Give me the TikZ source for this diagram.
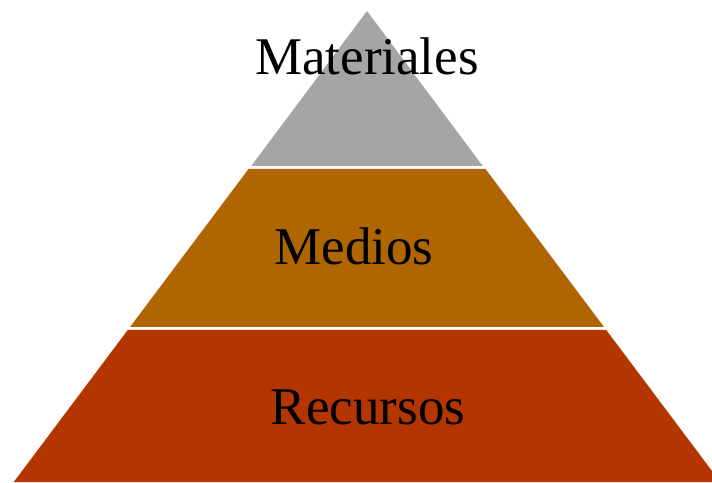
\documentclass[tikz,border=0pt]{standalone}
\usepackage{fontspec}
\setmainfont{Liberation Serif}
\usepackage{tikz}

\definecolor{topgray}{RGB}{165,165,165}
\definecolor{midbrown}{RGB}{175,102,0}
\definecolor{baserust}{RGB}{179,53,0}

\begin{document}
\begin{tikzpicture}[x=1pt, y=1pt,
  layer/.style = {draw=none},
  every node/.style = {font=\fontsize{53}{60}\selectfont, anchor=base}]
  \useasboundingbox (0,0) rectangle (712,482);
  \clip (0,0) rectangle (712,482);
  % levels of the pyramid
  \fill[layer, topgray] (367,471) -- (482.75,316) -- (251.25,316) -- cycle;
  \fill[layer, midbrown] (248.5,313) -- (485.5,313) -- (604,155) -- (130,155) -- cycle;
  \fill[layer, baserust] (127.75,152) -- (606.25,152) -- (720.25,0) -- (13.75,0) -- cycle;
  % labels
  \node (materiales) at (367,407) {Materiales};
  \node (medios) at (354,217) {Medios};
  \node (recursos) at (368,57) {Recursos};
\end{tikzpicture}
\end{document}
